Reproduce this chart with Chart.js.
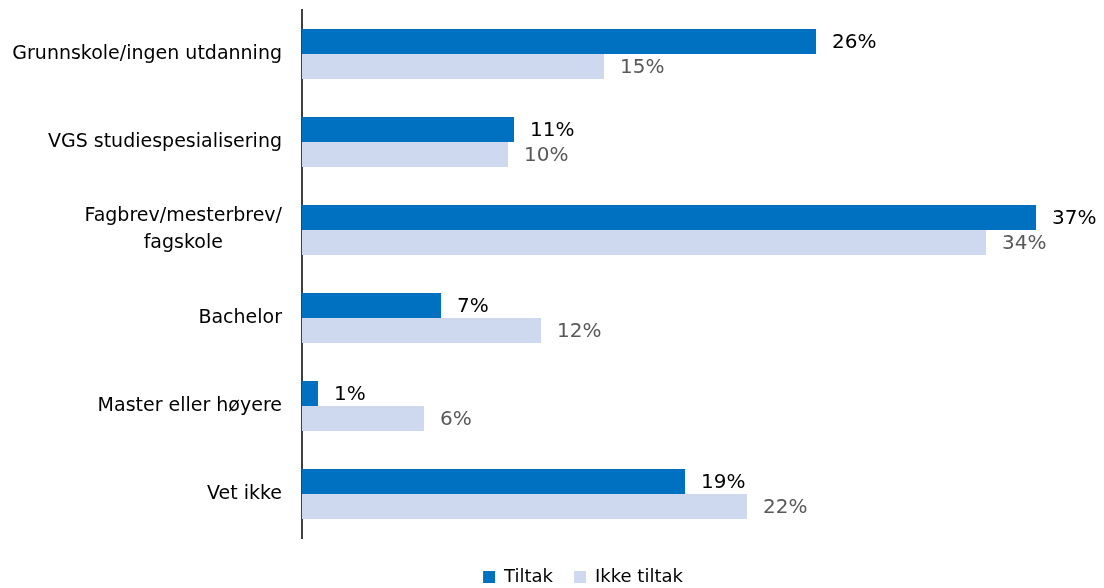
<!DOCTYPE html>
<html lang="no">

<head>
    <meta charset="UTF-8">
    <title>Utdanning - tiltak / ikke tiltak</title>
    <style>
        html, body {
            margin: 0;
            padding: 0;
            background: #fff;
        }

        #wrap {
            width: 1104px;
            height: 588px;
        }
    </style>
</head>

<body>
    <div id="wrap">
        <canvas id="barChart"></canvas>
    </div>
    <script type="text/javascript" src="https://cdn.jsdelivr.net/npm/chart.js@4.4.1/dist/chart.umd.min.js"></script>
    <script type="text/javascript">
        const categories = [
            "Grunnskole/ingen utdanning",
            "VGS studiespesialisering",
            ["Fagbrev/mesterbrev/", "fagskole"],
            "Bachelor",
            "Master eller høyere",
            "Vet ikke"
        ];
        const seriesNames = ["Tiltak", "Ikke tiltak"];
        const tiltak = [25.7, 10.6, 36.7, 6.95, 0.8, 19.15];
        const ikkeTiltak = [15.1, 10.3, 34.2, 11.95, 6.1, 22.25];

        const FONT = "'DejaVu Sans', sans-serif";

        // category labels drawn by hand so wrapped lines get centred within the block
        const catLabels = {
            id: "catLabels",
            afterDraw(chart) {
                const ctx = chart.ctx;
                const yScale = chart.scales.y;
                const right = chart.chartArea.left - 20;
                ctx.save();
                ctx.font = "19px " + FONT;
                ctx.fillStyle = "#000";
                ctx.textBaseline = "middle";
                ctx.textAlign = "center";
                categories.forEach((label, i) => {
                    const lines = Array.isArray(label) ? label : [label];
                    const w = Math.max(...lines.map(l => ctx.measureText(l).width));
                    const y = yScale.getPixelForValue(i);
                    const lh = 27;
                    lines.forEach((line, j) => {
                        ctx.fillText(line, right - w / 2, y + (j - (lines.length - 1) / 2) * lh);
                    });
                });
                ctx.restore();
            }
        };

        const valueLabels = {
            id: "valueLabels",
            afterDatasetsDraw(chart) {
                const ctx = chart.ctx;
                ctx.save();
                ctx.font = "20px " + FONT;
                ctx.textBaseline = "middle";
                ctx.textAlign = "left";
                chart.data.datasets.forEach((ds, di) => {
                    const meta = chart.getDatasetMeta(di);
                    ctx.fillStyle = di === 0 ? "#000" : "#595959";
                    meta.data.forEach((bar, i) => {
                        ctx.fillText(Math.round(ds.data[i]) + "%", bar.x + 16, bar.y + 1);
                    });
                });
                ctx.restore();
            }
        };

        const ctx = document.getElementById("barChart").getContext("2d");
        const myBarChart = new Chart(ctx, {
            type: "bar",
            data: {
                labels: categories,
                datasets: [
                    {
                        label: seriesNames[0],
                        data: tiltak,
                        backgroundColor: "#0070C0"
                    },
                    {
                        label: seriesNames[1],
                        data: ikkeTiltak,
                        backgroundColor: "#CED8EF"
                    }
                ]
            },
            options: {
                indexAxis: "y",
                responsive: true,
                maintainAspectRatio: false,
                animation: false,
                datasets: {
                    bar: {
                        barPercentage: 1,
                        categoryPercentage: 0.568
                    }
                },
                layout: {
                    padding: { left: 64, right: 2, top: 10, bottom: -8 }
                },
                scales: {
                    x: {
                        display: false,
                        min: 0,
                        max: 40
                    },
                    y: {
                        grid: { display: false },
                        border: { display: true, color: "#404040", width: 2 },
                        ticks: { display: false },
                        afterFit(scale) {
                            scale.width = 238;
                        }
                    }
                },
                plugins: {
                    tooltip: { enabled: false },
                    legend: {
                        position: "bottom",
                        // empty title only used as a spacer above the items
                        title: {
                            display: true,
                            text: "",
                            font: { size: 5, lineHeight: 1 },
                            padding: { top: 4, bottom: 0 }
                        },
                        labels: {
                            font: { family: FONT, size: 18 },
                            color: "#000",
                            boxWidth: 12,
                            boxHeight: 12,
                            padding: 21
                        }
                    }
                }
            },
            plugins: [catLabels, valueLabels]
        });
    </script>
</body>

</html>
